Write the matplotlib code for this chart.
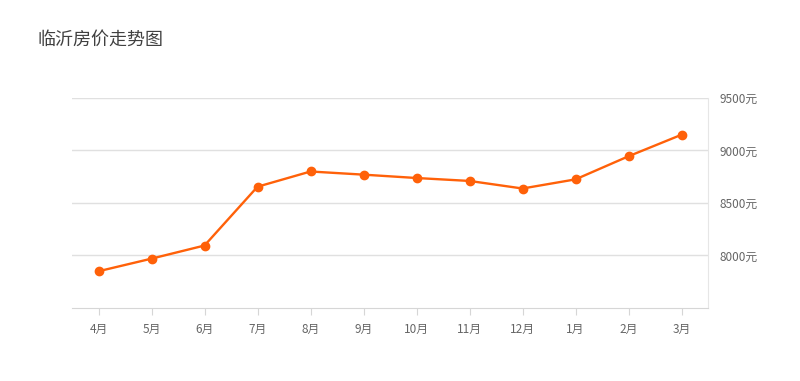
import matplotlib.pyplot as plt

plt.rcParams["font.family"] = ["Noto Sans CJK SC", "DejaVu Sans"]

months = ["4月", "5月", "6月", "7月", "8月", "9月", "10月", "11月", "12月", "1月", "2月", "3月"]
prices = [7850, 7970, 8095, 8655, 8800, 8770, 8738, 8710, 8638, 8725, 8945, 9150]
y_ticks = [8000, 8500, 9000, 9500]

fig = plt.figure(figsize=(8, 3.81), dpi=100)
ax = fig.add_axes([0.09, 0.1916, 0.795, 0.5512])

x = list(range(len(months)))
ax.plot(x, prices, color="#ff6109", linewidth=1.7, marker="o", markersize=6, zorder=3)

ax.set_xlim(-0.5, len(months) - 0.5)
ax.set_ylim(7500, 9500)
ax.set_xticks(x)
ax.set_xticklabels(months)
ax.set_yticks(y_ticks)
ax.set_yticklabels([f"{v}元" for v in y_ticks])

ax.yaxis.tick_right()
ax.grid(axis="y", color="#e0e0e0", linewidth=1)
ax.set_axisbelow(True)

for side in ["top", "left"]:
    ax.spines[side].set_visible(False)
ax.spines["bottom"].set_color("#d6d6d6")
ax.spines["right"].set_color("#e6e6e6")

ax.tick_params(axis="x", colors="#d6d6d6", labelcolor="#666666", labelsize=8.5, length=5, pad=6)
ax.tick_params(axis="y", length=0, labelcolor="#666666", labelsize=8.5, pad=8)

fig.text(0.047, 0.895, "临沂房价走势图", fontsize=13, color="#404040", va="center")

fig.savefig("out.png")
plt.close(fig)
